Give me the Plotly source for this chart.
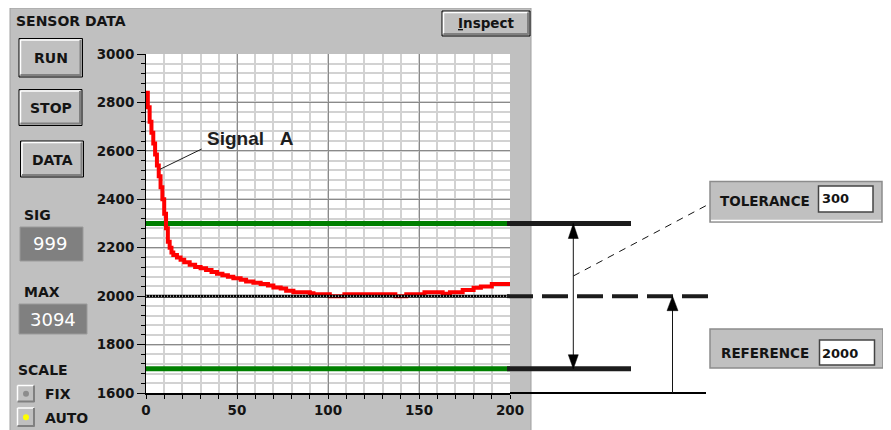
import plotly.graph_objects as go

W, H = 891, 430
OFF = 8  # the page body margin that offsets the figure in the browser window

# ---------------- data ----------------
SIG_X = [0, 1, 2, 3, 4, 5, 6, 7, 8, 9, 10, 11, 12, 13, 14, 15, 17, 19, 21, 24, 27,
         30, 33, 36, 39, 42, 45, 48, 52, 55, 59, 63, 67, 70, 74, 77, 81, 85, 90, 92,
         101, 109, 137, 143, 153, 163, 167, 174, 180, 184, 190, 200]
SIG_Y = [2840, 2780, 2720, 2675, 2630, 2585, 2540, 2495, 2450, 2400, 2340, 2280, 2225,
         2200, 2180, 2170, 2160, 2150, 2140, 2130, 2120, 2115, 2108, 2100, 2092, 2086,
         2080, 2074, 2068, 2060, 2055, 2050, 2044, 2036, 2032, 2022, 2016, 2016, 2012,
         2008, 2000, 2008, 2000, 2008, 2016, 2010, 2016, 2025, 2035, 2040, 2050, 2052]
REFERENCE = 2000
TOLERANCE = 300
X_RANGE = [0, 200]
Y_RANGE = [1600, 3000]
X_TICKS = [0, 50, 100, 150, 200]
Y_TICKS = [1600, 1800, 2000, 2200, 2400, 2600, 2800, 3000]
X_MINOR_STEP = 10
Y_MINOR_STEP = 40
SIGNAL_NAME = "Signal\u00a0\u00a0\u00a0A"
PANEL_TITLE = "SENSOR DATA"
BUTTONS = ["RUN", "STOP", "DATA"]
SIG_VALUE = "999"
MAX_VALUE = "3094"
SCALE_OPTIONS = ["FIX", "AUTO"]

UPPER = REFERENCE + TOLERANCE
LOWER = REFERENCE - TOLERANCE

UI = "DejaVu Sans"
INK = "#141414"
GRAY = "#c0c0c0"


def px(x):
    return (x - OFF) / W


def py(y):
    return 1 - (y - OFF) / H


shapes = []
annotations = []


def rect(x0, y0, x1, y1, fill=None, line=None, lw=1, layer="above"):
    d = dict(type="rect", xref="paper", yref="paper", x0=px(x0), x1=px(x1),
             y0=py(y1), y1=py(y0), layer=layer,
             line=dict(color=line or "rgba(0,0,0,0)", width=lw if line else 0))
    if fill:
        d["fillcolor"] = fill
    shapes.append(d)


def seg(x0, y0, x1, y1, color=INK, width=1, dash=None, layer="above"):
    ln = dict(color=color, width=width)
    if dash:
        ln["dash"] = dash
    shapes.append(dict(type="line", xref="paper", yref="paper", x0=px(x0), x1=px(x1),
                       y0=py(y0), y1=py(y1), line=ln, layer=layer))


def text(s, x, y, size=14, color=INK, anchor="center", family=UI, weight="bold"):
    annotations.append(dict(text=s, x=px(x), y=py(y), xref="paper", yref="paper",
                            xanchor=anchor, yanchor="middle", showarrow=False,
                            borderpad=0,
                            font=dict(family=family, size=size, color=color, weight=weight)))


def raised(x0, y0, x1, y1, outline=True):
    rect(x0, y0, x1, y1, fill=GRAY, line="#000000" if outline else None, lw=1)
    seg(x0 + 1.5, y0 + 1.5, x1 - 2, y0 + 1.5, "#ffffff", 1.5)
    seg(x0 + 1.5, y0 + 1.5, x0 + 1.5, y1 - 2, "#ffffff", 1.5)
    seg(x0 + 1.5, y1 - 2, x1 - 1.5, y1 - 2, "#808080", 2)
    seg(x1 - 2, y0 + 1.5, x1 - 2, y1 - 1.5, "#808080", 2)


# ---------------- panel background ----------------
rect(10, 8, 531, 445, fill=GRAY, line="#a0a0a0", lw=1, layer="below")
rect(146, 54, 510, 393, fill="#ffffff", layer="below")

text(PANEL_TITLE, 15, 21.5, size=14, anchor="left")

# buttons
btn_boxes = [(19, 38.5, 82.5, 77), (19, 89.5, 82, 125.5), (20.5, 141, 83.5, 177)]
for name, (a, b, c, d) in zip(BUTTONS, btn_boxes):
    raised(a, b, c, d)
    text(name, (a + c) / 2, (b + d) / 2 + 0.5, size=14)

# Inspect button
raised(442, 11, 530, 36)
text("<u>I</u>nspect", 486.5, 23.5, size=13.5)

# SIG / MAX displays
text("SIG", 23, 215, size=14, anchor="left")
rect(20, 227, 83, 261, fill="#808080", line="#9a9a9a", lw=1)
text(SIG_VALUE, 50, 243.5, size=18, color="#ffffff", weight="normal")
text("MAX", 22.5, 292, size=14, anchor="left")
rect(19, 304, 87, 334, fill="#808080", line="#9a9a9a", lw=1)
text(MAX_VALUE, 53, 319, size=18, color="#ffffff", weight="normal")

# SCALE radio buttons
text("SCALE", 16.5, 369.5, size=14, anchor="left")
radio_y = [(384, 403.5), (406.5, 428)]
dot_col = ["#8c8c8c", "#ffff00"]
for name, (a, b), col in zip(SCALE_OPTIONS, radio_y, dot_col):
    raised(16, a, 36, b, outline=False)
    cy = (a + b) / 2
    shapes.append(dict(type="circle", xref="paper", yref="paper",
                       x0=px(23), x1=px(29), y0=py(cy + 3), y1=py(cy - 3),
                       fillcolor=col, line=dict(width=0), layer="above"))
    text(name, 44, cy + 0.5, size=14, anchor="left")

# ---------------- tolerance diagram (right side) ----------------
def yline(x0, x1, yv, color=INK, width=1, dash=None):
    ln = dict(color=color, width=width)
    if dash:
        ln["dash"] = dash
    shapes.append(dict(type="line", xref="paper", yref="y", x0=px(x0), x1=px(x1),
                       y0=yv, y1=yv, line=ln, layer="above"))


def vline(x, ya, yb, color=INK, width=1):
    shapes.append(dict(type="line", xref="paper", yref="y", x0=px(x), x1=px(x),
                       y0=ya, y1=yb, line=dict(color=color, width=width), layer="above"))


def tri(x, tip, base, half):
    shapes.append(dict(type="path", xref="paper", yref="y",
                       path=f"M{px(x)},{tip} L{px(x - half)},{base} L{px(x + half)},{base} Z",
                       fillcolor="#000000", line=dict(color="#000000", width=0.5),
                       layer="above"))


yline(507, 631, UPPER, "#1c1c1c", 5)
yline(507, 631, LOWER, "#1c1c1c", 5)
yline(507, 712, REFERENCE, "#1c1c1c", 4, dash="26px,9px")
seg(510, 393, 706, 393, "#000000", 2)

vline(573.3, UPPER, LOWER)
tri(573.3, UPPER, UPPER - 62, 5)
tri(573.3, LOWER, LOWER + 58, 5)
vline(672.5, Y_RANGE[0], REFERENCE)
tri(672.5, REFERENCE, REFERENCE - 60, 5.5)

seg(573.3, 276, 711, 203, INK, 1, dash="7px,6px")

# TOLERANCE box
rect(710, 181.5, 882, 222, fill=GRAY, line="#8c8c8c", lw=1.5)
seg(711, 220.5, 881, 220.5, "#ffffff", 1.5)
text("TOLERANCE", 719, 200.5, size=13.5, anchor="left")
rect(818.5, 186, 873, 212, fill="#ffffff", line="#444444", lw=1.5)
text(str(TOLERANCE), 820.5, 199, size=13, anchor="left")

# REFERENCE box
rect(710, 329, 883, 368, fill=GRAY, line="#8c8c8c", lw=1.5)
text("REFERENCE", 719.5, 353, size=13.5, anchor="left")
rect(819.5, 340, 874.5, 365, fill="#ffffff", line="#444444", lw=1.5)
text(str(REFERENCE), 821, 353, size=13, anchor="left")

# Signal label + leader
text(SIGNAL_NAME, 250.5, 139, size=19, color="#1e1e1e", family="Liberation Sans")
seg(201.7, 149, 160, 169.3, "#1e1e1e", 1)

# ---------------- traces ----------------
fig = go.Figure()
for lvl in (UPPER, LOWER):
    fig.add_trace(go.Scatter(x=X_RANGE, y=[lvl, lvl], mode="lines",
                             line=dict(color="#008000", width=5), hoverinfo="skip"))
fig.add_trace(go.Scatter(x=SIG_X, y=SIG_Y, mode="lines",
                         line=dict(color="#ff0000", width=4, shape="hv"), hoverinfo="skip"))
fig.add_trace(go.Scatter(x=X_RANGE, y=[REFERENCE, REFERENCE], mode="lines",
                         line=dict(color="#000000", width=3), hoverinfo="skip"))
fig.add_trace(go.Scatter(x=X_RANGE, y=[REFERENCE, REFERENCE], mode="lines",
                         line=dict(color="#ffffff", width=1, dash="1px,2px"), hoverinfo="skip"))

tickfont = dict(family=UI, size=13.5, color=INK, weight="bold")
fig.update_layout(
    width=W, height=H, autosize=False,
    margin=dict(l=0, r=0, t=0, b=0, pad=0, autoexpand=False),
    paper_bgcolor="#ffffff", plot_bgcolor="rgba(0,0,0,0)",
    showlegend=False,
    xaxis=dict(domain=[px(146), px(510)], range=X_RANGE, tickmode="array",
               tickvals=X_TICKS, ticks="outside", ticklen=4, tickcolor="#000000",
               showline=True, linecolor="#000000", linewidth=2, zeroline=False,
               showgrid=True, gridcolor="#8a8a8a", gridwidth=1, tickfont=tickfont,
               minor=dict(tickmode="linear", tick0=0, dtick=X_MINOR_STEP, ticks="outside",
                          ticklen=4, tickcolor="#000000", showgrid=True,
                          gridcolor="#d2d2d2", gridwidth=2),
               fixedrange=True),
    yaxis=dict(domain=[py(393), py(54)], range=Y_RANGE, tickmode="array",
               tickvals=Y_TICKS, ticks="outside", ticklen=8, tickcolor="#000000",
               showline=True, linecolor="#000000", linewidth=1, zeroline=False,
               showgrid=True, gridcolor="#8a8a8a", gridwidth=1, tickfont=tickfont,
               minor=dict(tickmode="linear", tick0=Y_RANGE[0], dtick=Y_MINOR_STEP,
                          ticks="outside", ticklen=4, tickcolor="#000000", showgrid=True,
                          gridcolor="#d2d2d2", gridwidth=2),
               fixedrange=True),
    shapes=shapes,
    annotations=annotations,
)

fig.write_html("out.html", config={"displayModeBar": False})
